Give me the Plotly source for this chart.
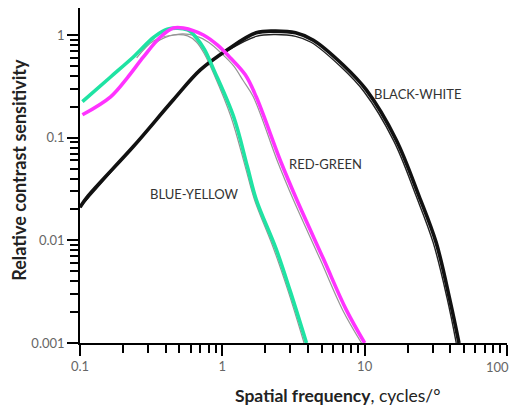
import math
import plotly.graph_objects as go

# Measured contrast sensitivity (thick) and fitted model (thin) per channel
bw_freq = [0.1, 0.113, 0.237, 0.453, 0.70, 1.08, 1.73, 2.35, 3.27, 4.36, 7.06, 10.3, 16.6, 24.1, 31.8, 40.0, 46.0]
bw_sens = [0.021, 0.0267, 0.082, 0.234, 0.457, 0.715, 1.05, 1.09, 1.05, 0.89, 0.51, 0.29, 0.096, 0.027, 0.0095, 0.0025, 0.001]

bw_fit_freq = [0.1, 0.237, 0.453, 0.70, 1.08, 1.73, 2.35, 3.27, 4.2, 6.8, 9.9, 16.0, 23.0, 30.3, 38.0, 44.0]
bw_fit_sens = [0.021, 0.082, 0.234, 0.457, 0.70, 0.97, 1.01, 0.97, 0.85, 0.49, 0.28, 0.093, 0.027, 0.0095, 0.0027, 0.001]

rg_freq = [0.104, 0.164, 0.215, 0.279, 0.367, 0.453, 0.532, 0.736, 0.922, 1.14, 1.45, 1.73, 2.58, 3.33, 5.13, 7.43, 10.0]
rg_sens = [0.167, 0.25, 0.383, 0.611, 0.956, 1.17, 1.17, 1.0, 0.8, 0.598, 0.409, 0.25, 0.058, 0.025, 0.0066, 0.0021, 0.001]

rg_fit_freq = [0.25, 0.3, 0.367, 0.5, 0.65, 0.8, 1.0, 1.2, 1.4, 1.65, 2.45, 3.15, 4.85, 7.0, 9.5]
rg_fit_sens = [0.5, 0.7, 0.9, 1.02, 0.98, 0.85, 0.65, 0.5, 0.36, 0.25, 0.058, 0.025, 0.0066, 0.0021, 0.001]

by_freq = [0.104, 0.164, 0.237, 0.33, 0.41, 0.57, 0.66, 0.75, 0.87, 1.2, 1.5, 1.73, 2.39, 3.0, 3.9]
by_sens = [0.224, 0.39, 0.61, 0.95, 1.14, 1.12, 0.93, 0.72, 0.46, 0.16, 0.052, 0.025, 0.0082, 0.0032, 0.001]

by_fit_freq = [0.25, 0.33, 0.45, 0.57, 0.66, 0.75, 0.87, 1.15, 1.45, 1.68, 2.3, 2.9, 3.75]
by_fit_sens = [0.6, 0.88, 1.0, 0.98, 0.85, 0.65, 0.42, 0.16, 0.052, 0.025, 0.0082, 0.0032, 0.001]

x_major = [0.1, 1, 10, 100]
x_major_text = ["0.1", "1", "10", "100"]
y_major = [0.001, 0.01, 0.1, 1]
y_major_text = ["0.001", "0.01", "0.1", "1"]

x_minor = [m * d for d in (0.1, 1, 10) for m in range(2, 10)]
y_minor = [m * d for d in (0.001, 0.01, 0.1) for m in range(2, 10)]

# channel labels: text, frequency and sensitivity at the label's left edge
labels = [
    ("BLACK-WHITE", 11.3, 0.267),
    ("RED-GREEN", 2.86, 0.056),
    ("BLUE-YELLOW", 0.302, 0.028),
]

GREEN = "#1fe3a3"
MAGENTA = "#ff33ff"
TICK_FONT = dict(family="Lato", size=13, color="#666666")

fig = go.Figure()


def add_line(x, y, color, width):
    fig.add_trace(go.Scatter(
        x=x, y=y, mode="lines",
        line=dict(color=color, width=width, shape="spline", smoothing=1.0),
        hoverinfo="skip", showlegend=False,
    ))


# thin model curves first, thick measured curves on top
add_line(by_fit_freq, by_fit_sens, "#959595", 1.2)
add_line(rg_fit_freq, rg_fit_sens, "#959595", 1.2)
add_line(bw_fit_freq, bw_fit_sens, "#222222", 1.4)
add_line(bw_freq, bw_sens, "#111111", 3.6)
add_line(by_freq, by_sens, GREEN, 3.6)
add_line(rg_freq, rg_sens, MAGENTA, 3.6)

for text, fx, fy in labels:
    fig.add_annotation(
        x=math.log10(fx), y=math.log10(fy),
        xref="x", yref="y", text=text, showarrow=False,
        xanchor="left", yanchor="middle",
        font=dict(family="Lato", size=13, color="#333333"),
    )

# the last x tick label sits at the right edge, so it is right-aligned to the tick
x_tick_text = x_major_text[:-1] + [""]
fig.add_annotation(
    x=math.log10(x_major[-1]), y=0, xref="x", yref="paper",
    text=x_major_text[-1], showarrow=False,
    xanchor="right", yanchor="top", xshift=4, yshift=-14,
    font=TICK_FONT,
)

fig.add_annotation(
    x=0.605, y=-0.158, xref="paper", yref="paper",
    text="<b>Spatial frequency</b>, cycles/°", showarrow=False,
    xanchor="center", yanchor="middle",
    font=dict(family="Lato", size=17.5, color="#222222"),
)
fig.add_annotation(
    x=-0.1415, y=0.516, xref="paper", yref="paper",
    text="<b>Relative contrast sensitivity</b>", showarrow=False, textangle=-90,
    xanchor="center", yanchor="middle",
    font=dict(family="Lato", size=18, color="#222222"),
)

axis_common = dict(
    type="log", showgrid=False, zeroline=False, showline=True,
    linecolor="black", linewidth=1.6, ticks="outside", ticklen=11,
    tickwidth=1.5, tickcolor="black", tickmode="array",
    automargin=False, tickfont=TICK_FONT,
)

fig.update_xaxes(
    **axis_common, range=[-1, 2],
    tickvals=x_major, ticktext=x_tick_text,
    minor=dict(tickmode="array", tickvals=x_minor, ticks="outside",
               ticklen=8, tickwidth=1.5, tickcolor="black"),
)
fig.update_yaxes(
    **axis_common, range=[-3, 0.263],
    tickvals=y_major, ticktext=y_major_text,
    minor=dict(tickmode="array", tickvals=y_minor, ticks="outside",
               ticklen=8, tickwidth=1.5, tickcolor="black"),
)

fig.update_layout(
    width=512, height=406,
    margin=dict(l=80, r=5, t=8, b=63),
    paper_bgcolor="white", plot_bgcolor="white",
)

fig.write_html("out.html")
